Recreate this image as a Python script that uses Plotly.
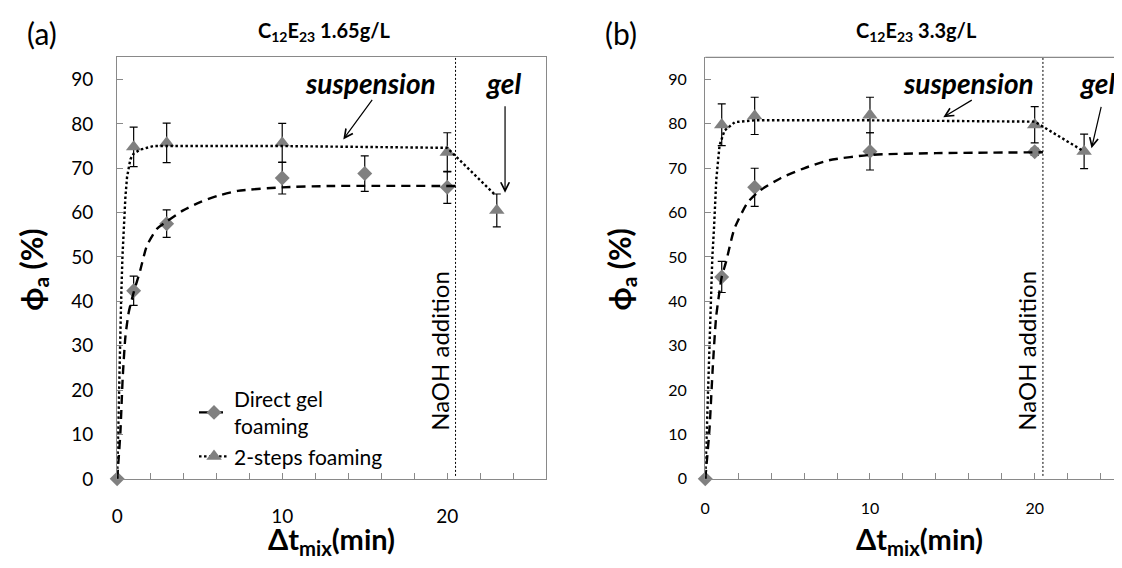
import plotly.graph_objects as go

# The page body has an 8px margin: reference pixel (X, Y) -> figure pixel (X-8, Y-8)
OFF = 8
W, H = 1122 - OFF, 568 - OFF
FONT = "Lato"

# ---------------- data: panel (a) C12E23 1.65 g/L ----------------
t_direct_a = [0, 1, 3, 10, 15, 20]
direct_a = [0, 42.4, 57.5, 67.8, 68.8, 65.7]
direct_a_err = [0, 3.3, 3.1, 3.6, 4.0, 3.6]

t_steps_a = [1, 3, 10, 20, 23]
steps_a = [74.8, 75.7, 75.7, 73.6, 60.5]
steps_a_err = [4.45, 4.45, 4.4, 4.4, 3.7]

fit_direct_a_t = [0, 0.1, 0.2, 0.34, 0.5, 0.7, 1, 1.4, 1.8, 2.4, 3, 4, 5, 6.1, 7.3, 10, 13, 20.5]
fit_direct_a_y = [0, 5, 10.7, 23, 32, 37.5, 42, 47, 52.5, 56.3, 58, 60.5, 62.3, 63.8, 64.9, 65.7, 66, 66]

fit_steps_a_t = [0, 0.05, 0.1, 0.17, 0.24, 0.32, 0.4, 0.5, 0.6, 0.8, 1.0, 1.4, 2.2, 10, 20, 22.9]
fit_steps_a_y = [0, 10, 19.5, 30, 40, 50, 57, 63.5, 68, 72, 73.3, 74.2, 75, 75, 74.6, 64]

# ---------------- data: panel (b) C12E23 3.3 g/L ----------------
t_direct_b = [0, 1, 3, 10, 20]
direct_b = [0, 45.5, 65.7, 73.8, 73.7]
direct_b_err = [0, 3.5, 4.3, 4.2, 0.8]

t_steps_b = [1, 3, 10, 20, 23]
steps_b = [79.8, 81.8, 82.0, 79.8, 73.8]
steps_b_err = [4.7, 4.2, 4.0, 4.1, 3.9]

fit_direct_b_t = [0, 0.12, 0.26, 0.46, 0.66, 0.87, 1.0, 1.27, 1.77, 2.58, 3.29, 4.6, 6, 7.5, 10, 14, 20.5]
fit_direct_b_y = [0, 5, 11.4, 25.4, 36.5, 42.4, 45.5, 49, 56.4, 62.3, 64.9, 67.8, 70, 71.8, 73, 73.4, 73.6]

fit_steps_b_t = [0, 0.08, 0.16, 0.25, 0.33, 0.43, 0.53, 0.67, 0.87, 1.17, 1.8, 3, 10, 20, 22.9]
fit_steps_b_y = [0, 10, 21.7, 33, 43, 50, 56.4, 67.5, 75.2, 78.5, 80.4, 80.8, 80.8, 80.5, 74]

naoh_t = 20.5
x_range_a = [0, 26]
x_range_b = [0, 25.3]
y_range = [0, 95]
y_ticks = [0, 10, 20, 30, 40, 50, 60, 70, 80, 90]
x_label_ticks = [0, 10, 20]
x_mark_ticks = [0, 2, 4, 6, 8, 10, 12, 14, 16, 18, 20, 22, 24, 26]

legend_names = ["Direct gel<br>foaming", "2-steps foaming"]
titles = ["C<sub>12</sub>E<sub>23</sub> 1.65g/L", "C<sub>12</sub>E<sub>23</sub> 3.3g/L"]

# ---------------- styling ----------------
GRAY = "#808080"
AXIS = "#898989"
DASH = "9px,6px"
DOT = "2.5px,2.5px"


def px(x):
    return (x - OFF) / W


def py(y):
    return 1 - (y - OFF) / H


fig = go.Figure()


def add_panel(xa, ya, t_d, d, d_err, t_s, s, s_err, fdt, fdy, fst, fsy):
    fig.add_trace(go.Scatter(x=t_d, y=d, mode="markers", xaxis=xa, yaxis=ya,
                             marker=dict(symbol="diamond", size=11.5, color=GRAY),
                             error_y=dict(type="data", array=d_err, color="black",
                                          thickness=1.2, width=4),
                             cliponaxis=False, showlegend=False))
    fig.add_trace(go.Scatter(x=t_s, y=s, mode="markers", xaxis=xa, yaxis=ya,
                             marker=dict(symbol="triangle-up", size=13.5, color=GRAY),
                             error_y=dict(type="data", array=s_err, color="black",
                                          thickness=1.2, width=4),
                             cliponaxis=False, showlegend=False))
    fig.add_trace(go.Scatter(x=fdt, y=fdy, mode="lines", xaxis=xa, yaxis=ya,
                             line=dict(color="black", width=2.4, dash=DASH,
                                       shape="spline", smoothing=0.6),
                             cliponaxis=False, showlegend=False))
    fig.add_trace(go.Scatter(x=fst, y=fsy, mode="lines", xaxis=xa, yaxis=ya,
                             line=dict(color="black", width=2.4, dash=DOT),
                             cliponaxis=False, showlegend=False))


add_panel("x", "y", t_direct_a, direct_a, direct_a_err, t_steps_a, steps_a, steps_a_err,
          fit_direct_a_t, fit_direct_a_y, fit_steps_a_t, fit_steps_a_y)
add_panel("x2", "y2", t_direct_b, direct_b, direct_b_err, t_steps_b, steps_b, steps_b_err,
          fit_direct_b_t, fit_direct_b_y, fit_steps_b_t, fit_steps_b_y)

# empty traces so the tick-mark overlay axes get drawn
fig.add_trace(go.Scatter(x=[None], y=[None], xaxis="x3", yaxis="y", showlegend=False,
                         hoverinfo="skip"))
fig.add_trace(go.Scatter(x=[None], y=[None], xaxis="x4", yaxis="y2", showlegend=False,
                         hoverinfo="skip"))

# legend entries
fig.add_trace(go.Scatter(x=[None], y=[None], mode="lines+markers", name=legend_names[0],
                         line=dict(color="black", width=2.4, dash=DASH),
                         marker=dict(symbol="diamond", size=11.5, color=GRAY)))
fig.add_trace(go.Scatter(x=[None], y=[None], mode="lines+markers", name=legend_names[1],
                         line=dict(color="black", width=2.4, dash=DOT),
                         marker=dict(symbol="triangle-up", size=13.5, color=GRAY)))

y_dom = [py(488.3), py(58.3)]


def xaxis_cfg(dom, rng, fs, mirror, anchor, push):
    # labels only; transparent outside ticks push the labels down
    return dict(domain=dom, range=rng, anchor=anchor, showgrid=False, zeroline=False,
                showline=True, linecolor=AXIS, linewidth=1.3, mirror=mirror,
                tickmode="array", tickvals=x_label_ticks,
                ticks="outside", ticklen=push, tickcolor="rgba(0,0,0,0)",
                tickfont=dict(family=FONT, size=fs, color="black"))


def xmarks_cfg(base, rng, anchor):
    # tick marks only, every 2 min, drawn inside
    return dict(overlaying=base, anchor=anchor, range=rng, showgrid=False, zeroline=False,
                showline=False, showticklabels=False, tickmode="array",
                tickvals=x_mark_ticks, ticks="inside", ticklen=6, tickcolor=AXIS, tickwidth=1)


def yaxis_cfg(anchor, fs, mirror, standoff):
    return dict(domain=y_dom, range=y_range, anchor=anchor, showgrid=False, zeroline=False,
                showline=True, linecolor=AXIS, linewidth=1.3, mirror=mirror,
                tickmode="array", tickvals=y_ticks, ticks="inside", ticklen=6,
                tickcolor=AXIS, tickwidth=1,
                tickfont=dict(family=FONT, size=fs, color="black"),
                ticklabelstandoff=standoff)


ann = []


def text(x, y, s, size, bold=False, italic=False, angle=0):
    if bold:
        s = "<b>" + s + "</b>"
    if italic:
        s = "<i>" + s + "</i>"
    ann.append(dict(x=px(x), y=py(y), xref="paper", yref="paper", text=s, showarrow=False,
                    xanchor="center", yanchor="middle", textangle=angle,
                    font=dict(family=FONT, size=size, color="black")))


text(36, 34, "(a)", 30)
text(618, 34, "(b)", 30)
text(320, 32, titles[0], 20, bold=True)
text(915, 32, titles[1], 20, bold=True)
text(27, 275, "ϕ<sub>a</sub> (%)", 30, bold=True, angle=-90)
text(618, 275, "ϕ<sub>a</sub> (%)", 30, bold=True, angle=-90)
text(327, 551, "Δt<sub>mix</sub>(min)", 29, bold=True)
text(918, 551, "Δt<sub>mix</sub>(min)", 29, bold=True)
text(366, 84, "suspension", 28, bold=True, italic=True)
text(500, 84, "gel", 28, bold=True, italic=True)
text(968, 84, "suspension", 28, bold=True, italic=True)
text(1097, 84, "gel", 28, bold=True, italic=True)
text(435, 358, "NaOH addition", 24, angle=-90)
text(1026, 358, "NaOH addition", 24, angle=-90)


def arrow(xr, yr, x, y, ax, ay):
    ann.append(dict(x=x, y=y, xref=xr, yref=yr, ax=ax, ay=ay, text="", showarrow=True,
                    arrowhead=5, arrowsize=1.4, arrowwidth=1.2, arrowcolor="black"))


arrow("x", "y", 13.7, 76.5, 30, -41)
arrow("x", "y", 23.5, 64.5, 0, -88)
arrow("x2", "y2", 14.45, 81.5, 30, -18)
arrow("x2", "y2", 23.45, 74.5, 10, -43)

shapes = [
    dict(type="line", xref="x", yref="y domain", x0=naoh_t, x1=naoh_t, y0=0.007, y1=1,
         line=dict(color="black", width=1, dash="2px,2px")),
    dict(type="line", xref="x2", yref="y2 domain", x0=naoh_t, x1=naoh_t, y0=0.007, y1=1,
         line=dict(color="black", width=1, dash="2px,2px")),
    dict(type="line", xref="paper", yref="paper", x0=px(703), x1=1, y0=y_dom[1], y1=y_dom[1],
         line=dict(color=AXIS, width=1.3)),
]

fig.update_layout(
    width=W, height=H, margin=dict(l=0, r=0, t=0, b=0),
    paper_bgcolor="white", plot_bgcolor="white",
    xaxis=xaxis_cfg([px(111.7), px(543.2)], x_range_a, 19, True, "y", 20),
    yaxis=yaxis_cfg("x", 19, True, 19),
    xaxis2=xaxis_cfg([px(703), 1.0], x_range_b, 16, False, "y2", 15),
    yaxis2=yaxis_cfg("x2", 16, False, 14),
    xaxis3=xmarks_cfg("x", x_range_a, "y"),
    xaxis4=xmarks_cfg("x2", x_range_b, "y2"),
    annotations=ann, shapes=shapes,
    legend=dict(x=px(189), y=py(386), xanchor="left", yanchor="top",
                bgcolor="rgba(0,0,0,0)", font=dict(family=FONT, size=21, color="black"),
                tracegroupgap=0),
)

fig.write_html("out.html")
